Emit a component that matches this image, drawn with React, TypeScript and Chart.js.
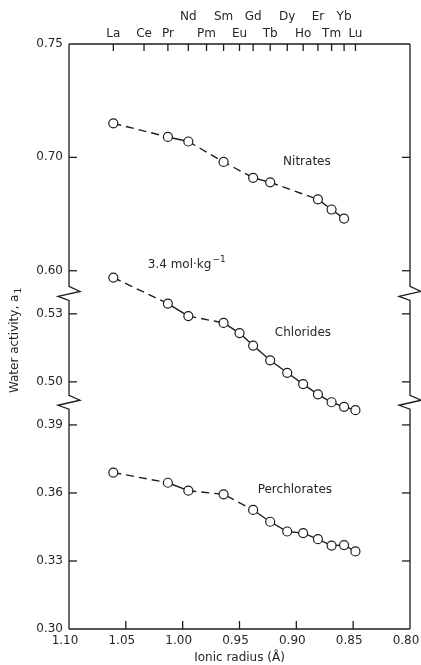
import React, { useEffect, useRef } from 'react';
import { Chart, registerables } from 'chart.js';

Chart.register(...registerables);

// ---- data ----
const ELEMENTS = ['La', 'Ce', 'Pr', 'Nd', 'Pm', 'Sm', 'Eu', 'Gd', 'Tb', 'Dy', 'Ho', 'Er', 'Tm', 'Yb', 'Lu'];
const IONIC_RADII = [1.061, 1.034, 1.013, 0.995, 0.979, 0.964, 0.95, 0.938, 0.923, 0.908, 0.894, 0.881, 0.869, 0.858, 0.848];
const UPPER_ROW_ELEMENTS = ['Nd', 'Sm', 'Gd', 'Dy', 'Er', 'Yb'];

const NITRATES = [0.715, null, 0.709, 0.707, null, 0.698, null, 0.691, 0.689, null, null, 0.6815, 0.677, 0.673, null];
const CHLORIDES = [0.546, null, 0.5345, 0.529, null, 0.526, 0.5215, 0.516, 0.5095, 0.504, 0.499, 0.4945, 0.491, 0.489, 0.4875];
const PERCHLORATES = [0.369, null, 0.3645, 0.361, null, 0.3594, null, 0.3525, 0.3473, 0.343, 0.3423, 0.3396, 0.3368, 0.337, 0.3342];

const X_TICKS = [1.1, 1.05, 1.0, 0.95, 0.9, 0.85, 0.8];
const NITRATE_TICKS = [0.65, 0.7, 0.75];
const NITRATE_TICK_LABELS = ['0.60', '0.70', '0.75'];
const CHLORIDE_TICKS = [0.5, 0.53];
const CHLORIDE_TICK_LABELS = ['0.50', '0.53'];
const PERCHLORATE_TICKS = [0.3, 0.33, 0.36, 0.39];
const PERCHLORATE_TICK_LABELS = ['0.30', '0.33', '0.36', '0.39'];

// segment ranges of the broken y axis
const NITRATE_RANGE = [0.64, 0.75];
const CHLORIDE_RANGE = [0.491, 0.539];
const PERCHLORATE_RANGE = [0.3, 0.4];

const ANNOTATIONS = [
  { text: 'Nitrates', x: 0.8907, y: 0.698, axis: 'yTop', align: 'center' },
  { text: 'Chlorides', x: 0.8942, y: 0.5215, axis: 'yMid', align: 'center' },
  { text: 'Perchlorates', x: 0.9013, y: 0.3613, axis: 'yBot', align: 'center' },
];
const CONC_LABEL = { text: '3.4 mol·kg', sup: '−1', x: 1.0307, y: 0.6525, axis: 'yTop' };

const INK = '#1d1d1d';
const TEXT = '#262626';
const FAMILY = "'DejaVu Sans', sans-serif";

function series(values: (number | null)[]) {
  const pts: { x: number; y: number }[] = [];
  const idx: number[] = [];
  values.forEach((v, i) => {
    if (v !== null) {
      pts.push({ x: IONIC_RADII[i], y: v });
      idx.push(i);
    }
  });
  return { pts, idx };
}

function lineDataset(label: string, values: (number | null)[], axis: string) {
  const { pts, idx } = series(values);
  return {
    label,
    data: pts,
    yAxisID: axis,
    clip: false,
    borderColor: INK,
    borderWidth: 1.4,
    pointRadius: 4.5,
    pointBorderWidth: 1.2,
    pointBackgroundColor: '#ffffff',
    pointBorderColor: INK,
    tension: 0,
    segment: {
      borderDash: (ctx: any) => (idx[ctx.p1DataIndex] - idx[ctx.p0DataIndex] > 1 ? [8, 5] : undefined),
    },
  };
}

const framePlugin = {
  id: 'brokenFrame',
  beforeDatasetsDraw(chart: any) {
    const { ctx, chartArea: a, scales } = chart;
    ctx.save();
    ctx.strokeStyle = INK;
    ctx.lineWidth = 1.3;
    const seg = (x1: number, y1: number, x2: number, y2: number) => {
      ctx.beginPath();
      ctx.moveTo(x1, y1);
      ctx.lineTo(x2, y2);
      ctx.stroke();
    };
    seg(a.left, a.top, a.right, a.top);
    seg(a.left, a.bottom, a.right, a.bottom);
    const breaks = [scales.yTop.bottom, scales.yMid.bottom];
    for (const x of [a.left, a.right]) {
      ctx.beginPath();
      ctx.moveTo(x, a.top);
      for (const yb of breaks) {
        ctx.lineTo(x, yb - 7);
        ctx.lineTo(x + 11, yb - 2);
        ctx.lineTo(x - 11, yb + 3);
        ctx.lineTo(x, yb + 7);
      }
      ctx.lineTo(x, a.bottom);
      ctx.stroke();
    }
    for (const id of ['yTop', 'yMid', 'yBot']) {
      const s = scales[id];
      s.ticks.forEach((_t: any, i: number) => {
        const y = s.getPixelForTick(i);
        if (y <= a.top + 1 || y >= a.bottom - 1) return;
        seg(a.left, y, a.left + 8, y);
        seg(a.right, y, a.right - 8, y);
      });
    }
    scales.x.ticks.forEach((_t: any, i: number) => {
      const x = scales.x.getPixelForTick(i);
      if (x <= a.left + 1 || x >= a.right - 1) return;
      seg(x, a.bottom, x, a.bottom - 8);
    });
    scales.x2.ticks.forEach((_t: any, i: number) => {
      const x = scales.x2.getPixelForTick(i);
      seg(x, a.top, x, a.top + 7);
    });

    // annotations
    ctx.fillStyle = TEXT;
    ctx.font = `12px ${FAMILY}`;
    ctx.textBaseline = 'middle';
    for (const an of ANNOTATIONS) {
      ctx.textAlign = an.align;
      ctx.fillText(an.text, scales.x.getPixelForValue(an.x), scales[an.axis].getPixelForValue(an.y));
    }
    {
      const x = scales.x.getPixelForValue(CONC_LABEL.x);
      const y = scales[CONC_LABEL.axis].getPixelForValue(CONC_LABEL.y);
      ctx.textAlign = 'left';
      ctx.fillText(CONC_LABEL.text, x, y);
      const w = ctx.measureText(CONC_LABEL.text).width;
      ctx.font = `9px ${FAMILY}`;
      ctx.fillText(CONC_LABEL.sup, x + w + 1, y - 5);
    }

    // y title
    {
      const yc = (a.top + a.bottom) / 2 + 4;
      ctx.translate(15, yc);
      ctx.rotate(-Math.PI / 2);
      ctx.font = `12px ${FAMILY}`;
      const main = 'Water activity, a';
      const w = ctx.measureText(main).width;
      ctx.font = `9px ${FAMILY}`;
      const ws = ctx.measureText('1').width;
      const start = -(w + ws + 1) / 2;
      ctx.textAlign = 'left';
      ctx.font = `12px ${FAMILY}`;
      ctx.fillText(main, start, 0);
      ctx.font = `9px ${FAMILY}`;
      ctx.fillText('1', start + w + 1, 4);
    }
    ctx.restore();
  },
};

function yAxis(range: number[], ticks: number[], labels: string[]) {
  return {
    type: 'linear',
    position: 'left',
    stack: 'broken',
    stackWeight: range[1] - range[0],
    min: range[0],
    max: range[1],
    afterBuildTicks: (s: any) => {
      s.ticks = ticks.map((v) => ({ value: v }));
    },
    afterFit: (s: any) => {
      s.width = 69;
      s.paddingTop = 0;
      s.paddingBottom = 0;
    },
    ticks: {
      autoSkip: false,
      padding: 6,
      color: TEXT,
      font: { family: FAMILY, size: 12 },
      callback: (_v: any, i: number) => labels[i],
    },
    grid: { display: false, drawTicks: false },
    border: { display: false },
  };
}

export default function App() {
  const ref = useRef<HTMLCanvasElement | null>(null);
  useEffect(() => {
    document.body.style.margin = '0';
    if (!ref.current) return;
    const chart = new Chart(ref.current, {
      type: 'line',
      data: {
        datasets: [
          lineDataset('Nitrates', NITRATES, 'yTop'),
          lineDataset('Chlorides', CHLORIDES, 'yMid'),
          lineDataset('Perchlorates', PERCHLORATES, 'yBot'),
        ],
      },
      options: {
        animation: false,
        responsive: false,
        devicePixelRatio: 1,
        layout: { padding: { right: 11, top: 0, left: 0, bottom: 0 } },
        plugins: { legend: { display: false }, tooltip: { enabled: false } },
        scales: {
          x: {
            type: 'linear',
            position: 'bottom',
            min: 0.8,
            max: 1.1,
            reverse: true,
            afterBuildTicks: (s: any) => {
              s.ticks = X_TICKS.map((v) => ({ value: v }));
            },
            afterFit: (s: any) => {
              s.height = 36;
              s.paddingLeft = 0;
              s.paddingRight = 0;
            },
            ticks: {
              autoSkip: false,
              maxRotation: 0,
              padding: 5,
              labelOffset: -4,
              color: TEXT,
              font: { family: FAMILY, size: 12 },
              callback: (v: any) => Number(v).toFixed(2),
            },
            grid: { display: false, drawTicks: false },
            border: { display: false },
            title: {
              display: true,
              text: 'Ionic radius (Å)',
              color: TEXT,
              font: { family: FAMILY, size: 12 },
              padding: 0,
            },
          },
          x2: {
            type: 'linear',
            position: 'top',
            min: 0.8,
            max: 1.1,
            reverse: true,
            afterBuildTicks: (s: any) => {
              s.ticks = IONIC_RADII.map((v) => ({ value: v }));
            },
            afterFit: (s: any) => {
              s.height = 44;
              s.paddingLeft = 0;
              s.paddingRight = 0;
            },
            ticks: {
              autoSkip: false,
              maxRotation: 0,
              padding: 1,
              color: TEXT,
              font: { family: FAMILY, size: 12, lineHeight: 1.45 },
              callback: (_v: any, i: number) => {
                const el = ELEMENTS[i];
                return UPPER_ROW_ELEMENTS.includes(el) ? [el, ''] : ['', el];
              },
            },
            grid: { display: false, drawTicks: false },
            border: { display: false },
          },
          yBot: yAxis(PERCHLORATE_RANGE, PERCHLORATE_TICKS, PERCHLORATE_TICK_LABELS),
          yMid: yAxis(CHLORIDE_RANGE, CHLORIDE_TICKS, CHLORIDE_TICK_LABELS),
          yTop: yAxis(NITRATE_RANGE, NITRATE_TICKS, NITRATE_TICK_LABELS),
        },
      } as any,
      plugins: [framePlugin],
    });
    return () => chart.destroy();
  }, []);
  return <canvas ref={ref} width={421} height={665} style={{ display: 'block' }} />;
}
